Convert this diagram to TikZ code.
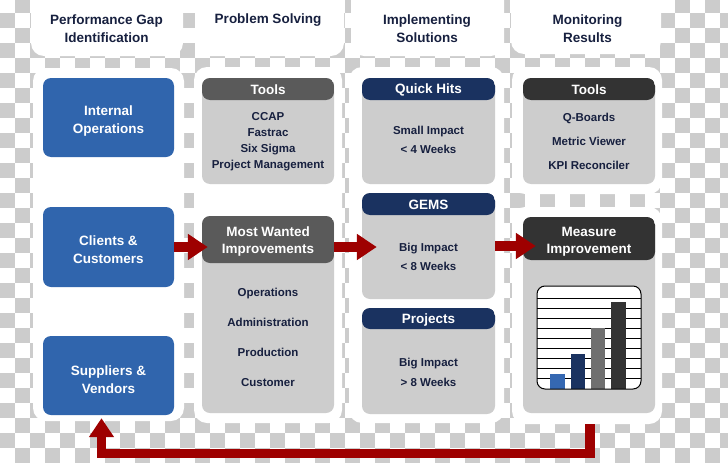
\documentclass[tikz,border=0pt]{standalone}
\usepackage{fontspec}
\setmainfont{Liberation Sans}
\usetikzlibrary{arrows.meta}
\definecolor{chk}{HTML}{CCCCCC}
\definecolor{bluefill}{HTML}{3065AD}
\definecolor{midgray}{HTML}{5A5A5A}
\definecolor{lightbox}{HTML}{CDCDCD}
\definecolor{navyhead}{HTML}{1A3260}
\definecolor{darkhead}{HTML}{333333}
\definecolor{txt}{HTML}{17203F}
\definecolor{arrowred}{HTML}{9E0000}
\definecolor{barblue}{HTML}{3568B2}
\definecolor{bargray}{HTML}{707070}
\begin{document}
\begin{tikzpicture}[x=1pt,y=-1pt,
  panel/.style={fill=white, rounded corners=13pt},
  bluebox/.style={fill=bluefill, rounded corners=8pt, minimum width=131pt, inner sep=0pt},
  bluetxt/.style={text=white, align=center, inner sep=0pt, font=\bfseries\fontsize{13.5}{18}\selectfont},
  graybox/.style={fill=lightbox, rounded corners=8pt, inner sep=0pt},
  headed/.style 2 args={graybox, path picture={\fill[#1] (path picture bounding box.north west) rectangle ([yshift=-#2]path picture bounding box.north east);}},
  hdr/.style={text=txt, align=center, font=\bfseries\fontsize{13.5}{18}\selectfont, inner sep=0pt},
  boxtitle/.style={text=white, align=center, font=\bfseries\fontsize{13.5}{17}\selectfont, inner sep=0pt},
  bodytxt/.style={text=txt, align=center, inner sep=0pt},
  redarrow/.style={draw=arrowred, line width=10pt, line join=miter, -{Triangle[length=20pt,width=25pt]}, arrowred},
]
\useasboundingbox (0,0) rectangle (728,463);
% checkerboard background
\begin{scope}
  \clip (0,0) rectangle (728,463);
  \fill[white] (0,0) rectangle (728,463);
  \foreach \r in {-1,...,30}{
    \pgfmathtruncatemacro\s{mod(\r+2,2)}
    \pgfmathtruncatemacro\t{\s+2}
    \foreach \c in {\s,\t,...,48}{
      \fill[chk] (15*\c,12.5+15*\r) rectangle ++(15,15);
    }
  }
\end{scope}
% white panels
\fill[panel] (31,-20) rectangle (183,56);
\fill[panel] (195,-20) rectangle (344,56);
\fill[panel] (351,-20) rectangle (504,56);
\fill[panel] (511,-20) rectangle (661,54);
\fill[panel] (33,68) rectangle (184,421);
\fill[panel] (194,67) rectangle (342,423);
\fill[panel] (349,67) rectangle (504,423);
\fill[panel] (512,67) rectangle (662,194);
\fill[panel] (512,207) rectangle (662,424);
% column headers
\node[hdr] (h1) at (106.5,29) {Performance Gap\\Identification};
\node[hdr] (h2) at (268,20) {Problem Solving};
\node[hdr] (h3) at (427,29) {Implementing\\Solutions};
\node[hdr] (h4) at (587.5,29) {Monitoring\\Results};
% column 1
\node[bluebox, minimum height=79pt] (io) at (108.5,117.5) {};
\node[bluetxt] (iot) at (108.5,121) {Internal\\Operations};
\node[bluebox, minimum height=80pt] (cc) at (108.5,247) {};
\node[bluetxt] (cct) at (108.5,250) {Clients \&\\Customers};
\node[bluebox, minimum height=79pt] (sv) at (108.5,375.5) {};
\node[bluetxt] (svt) at (108.5,380) {Suppliers \&\\Vendors};
% column 2
\node[headed={midgray}{22pt}, minimum width=132pt, minimum height=106pt] (t1) at (268,131) {};
\node[boxtitle] (t1h) at (268,90) {Tools};
\node[bodytxt, font=\bfseries\fontsize{11.5}{16}\selectfont] (t1b) at (268,142) {CCAP\\Fastrac\\Six Sigma\\Project Management};
\node[headed={midgray}{47pt}, minimum width=132pt, minimum height=197pt] (mw) at (268,314.5) {};
\node[boxtitle] (mwh) at (268,241.5) {Most Wanted\\Improvements};
\node[bodytxt, font=\bfseries\fontsize{11.5}{30}\selectfont] (mwb) at (268,337) {Operations\\Administration\\Production\\Customer};
% column 3
\node[headed={navyhead}{22pt}, minimum width=133pt, minimum height=106pt] (qh) at (428.5,131) {};
\node[boxtitle] (qhh) at (428.5,90) {Quick Hits};
\node[bodytxt, font=\bfseries\fontsize{11.5}{19}\selectfont] (qhb) at (428.5,139.5) {Small Impact\\< 4 Weeks};
\node[headed={navyhead}{22pt}, minimum width=133pt, minimum height=106pt] (gm) at (428.5,246) {};
\node[boxtitle] (gmh) at (428.5,205) {GEMS};
\node[bodytxt, font=\bfseries\fontsize{11.5}{19}\selectfont] (gmb) at (428.5,256.5) {Big Impact\\< 8 Weeks};
\node[headed={navyhead}{21pt}, minimum width=133pt, minimum height=106pt] (pj) at (428.5,361) {};
\node[boxtitle] (pjh) at (428.5,320) {Projects};
\node[bodytxt, font=\bfseries\fontsize{11.5}{20}\selectfont] (pjb) at (428.5,372) {Big Impact\\> 8 Weeks};
% column 4
\node[headed={darkhead}{22pt}, minimum width=132pt, minimum height=106pt] (t4) at (589,131) {};
\node[boxtitle] (t4h) at (589,90) {Tools};
\node[bodytxt, font=\bfseries\fontsize{11.5}{24}\selectfont] (t4b) at (589,141.5) {Q-Boards\\Metric Viewer\\KPI Reconciler};
\node[headed={darkhead}{43pt}, minimum width=132pt, minimum height=196pt] (mi) at (589,315) {};
\node[boxtitle] (mih) at (589,241.5) {Measure\\Improvement};
% chart
\fill[white, rounded corners=8pt] (537,286) rectangle (641,389);
\foreach \k in {0,...,8}{
  \draw[line width=0.7pt] (537,298+10*\k) -- (641,298+10*\k);
}
\fill[barblue] (550,374) rectangle (565,389);
\fill[navyhead] (571,354) rectangle (585,389);
\fill[bargray] (591,328) rectangle (605,389);
\fill[darkhead] (611,302) rectangle (626,389);
\draw[line width=1pt, rounded corners=8pt] (537,286) rectangle (641,389);
% arrows
\draw[redarrow] (cc.east) -- ([xshift=6pt]cc.east -| mw.west);
\draw[redarrow] (mw.east |- cc.east) -- ([xshift=15pt]cc.east -| gm.west);
\draw[redarrow] (gm.east) -- ([xshift=13pt]gm.east -| mi.west);
\draw[redarrow, line width=9.5pt, -{Triangle[length=19pt,width=24pt]}]
  ([xshift=1pt,yshift=-11pt]mi.south) -- ++(0,29.5) -| ([xshift=-7pt,yshift=-3pt]sv.south);
\end{tikzpicture}
\end{document}
